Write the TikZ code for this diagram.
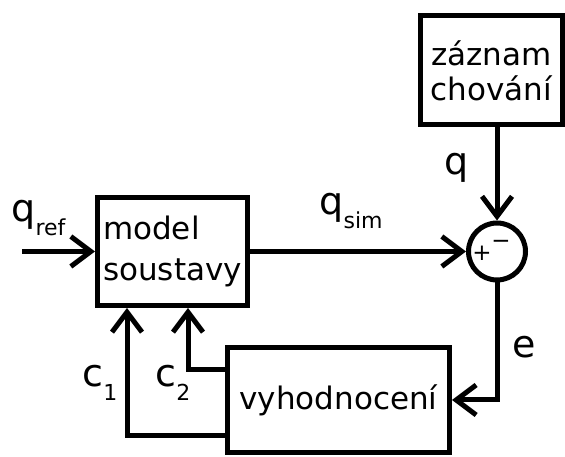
\documentclass[tikz,border=0pt]{standalone}
\usepackage{fontspec}
\setmainfont{DejaVu Sans}
\usetikzlibrary{arrows.meta,positioning}
\newcommand{\sig}[2]{#1\raisebox{-14pt}{\fontsize{22}{22}\selectfont #2}}

\begin{document}
\begin{tikzpicture}[x=1pt,y=1pt,line width=5pt,
box/.style={draw,line width=5pt,inner sep=0pt,align=center,
font=\fontsize{31}{35}\selectfont},
sumnode/.style={draw,circle,minimum size=57pt,inner sep=0pt},
arr/.style={-{Straight Barb[length=20pt,width=30pt]}},
lbl/.style={inner sep=0pt,anchor=base west,font=\fontsize{38}{38}\selectfont},
sgn/.style={inner sep=0pt,font=\fontsize{23}{23}\selectfont}
]
\useasboundingbox (0,0) rectangle (565,457);
\node[box,minimum width=150pt,minimum height=108pt,align=left,
font=\fontsize{31}{41}\selectfont] (model) at (172.5,205.5) {model\\soustavy};
\node[sumnode,right=216pt of model] (sum) {};
\node[box,minimum width=142pt,minimum height=109pt,above=93pt of sum,xshift=-5.5pt] (zaznam) {záznam\\chování};
\node[box,minimum width=222pt,minimum height=105pt,below right=37pt and -25pt of model] (vyhod) {vyhodnocení};
\coordinate[left=73pt of model] (in);
% znamenka v souctovem clenu
\node[sgn] (plus) at ([xshift=-15pt,yshift=-2pt]sum.center) {+};
\node[sgn] (minus) at ([xshift=4pt,yshift=7pt]sum.center) {−};
% signaly
\draw[arr] (in) -- (model);
\draw[arr] (model) -- (sum);
\draw[arr] (zaznam.south -| sum) -- (sum);
\draw[arr] (sum) |- (vyhod);
\draw[arr] ([yshift=19pt]vyhod.south west) -| ([xshift=32pt]model.south west);
\draw[arr] ([yshift=-25pt]vyhod.north west) -| ([xshift=93pt]model.south west);
% popisky
\node[lbl] (qref) at (9,235) {\sig{q}{ref}};
\node[lbl] (qsim) at (317,242) {\sig{q}{sim}};
\node[lbl] (q) at (442,282) {q};
\node[lbl] (e) at (510,99) {e};
\node[lbl] (c1) at (80,70) {\sig{c}{1}};
\node[lbl] (c2) at (153,70) {\sig{c}{2}};
\end{tikzpicture}
\end{document}
